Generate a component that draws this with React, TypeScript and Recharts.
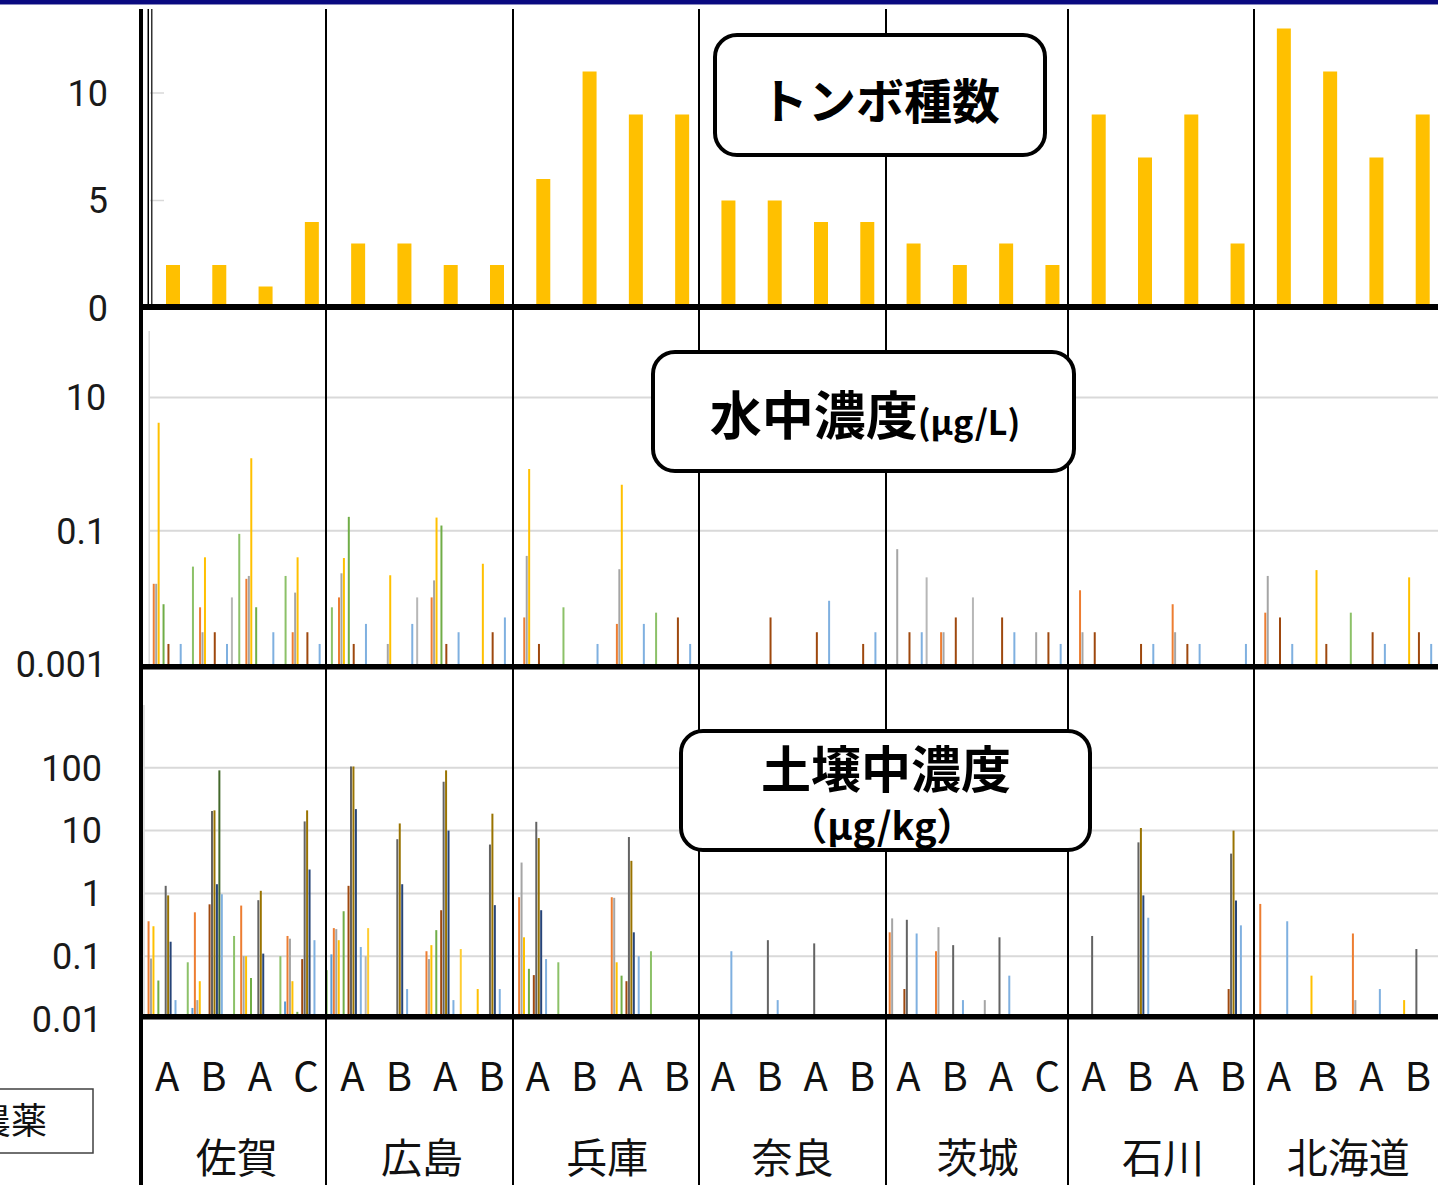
import React from "react";
import { BarChart, Bar, XAxis, YAxis, CartesianGrid } from "recharts";

const _ = null;

const PREFECTURES = ["佐賀", "広島", "兵庫", "奈良", "茨城", "石川", "北海道"];
const SITES = [
  "A", "B", "A", "C",
  "A", "B", "A", "B",
  "A", "B", "A", "B",
  "A", "B", "A", "B",
  "A", "B", "A", "C",
  "A", "B", "A", "B",
  "A", "B", "A", "B",
];

// トンボ種数
const DRAGONFLY_SPECIES = [
  2, 2, 1, 4,
  3, 3, 2, 2,
  6, 11, 9, 9,
  5, 5, 4, 4,
  3, 2, 3, 2,
  9, 7, 9, 3,
  13, 11, 7, 9,
];

// pesticide series (slot order in each site group)
const PESTICIDES = [
  "p1", "p2", "p3", "p4", "p5", "p6", "p7", "p8", "p9",
  "p10", "p11", "p12", "p13", "p14", "p15", "p16", "p17", "p18",
];
const PESTICIDE_COLORS = [
  "#5B9BD5", "#ED7D31", "#A5A5A5", "#FFC000", "#4472C4", "#70AD47",
  "#264478", "#9E480E", "#636363", "#997300", "#264478", "#43682B",
  "#7FB0E0", "#F1975A", "#B7B7B7", "#FFCD33", "#698ED0", "#8CC168",
];

// 水中濃度 (μg/L)
const WATER_P2 = [
  0.016, 0.0071, 0.019, 0.003,
  0.01, _, 0.01, _,
  0.005, _, 0.004, _,
  _, _, _, _,
  _, 0.003, _, _,
  0.0128, _, 0.0079, _,
  0.0059, _, _, _,
];
const WATER_P3 = [
  0.016, 0.003, 0.021, 0.0118,
  0.023, 0.002, 0.018, _,
  0.042, _, 0.0265, _,
  _, _, _, _,
  0.053, 0.003, _, 0.003,
  0.003, _, 0.003, _,
  0.021, _, _, _,
];
const WATER_P4 = [
  4.2, 0.04, 1.23, 0.04,
  0.039, 0.0215, 0.158, 0.032,
  0.85, _, 0.49, _,
  _, _, _, _,
  _, _, _, _,
  _, _, _, _,
  _, 0.0257, _, 0.02,
];
const WATER_P6 = [
  0.0079, _, 0.0071, _,
  0.162, _, 0.12, _,
  _, _, _, _,
  _, _, _, _,
  _, _, _, _,
  _, _, _, _,
  _, _, _, _,
];
const WATER_P8 = [
  0.002, 0.003, _, 0.003,
  0.002, _, 0.002, 0.003,
  0.002, _, _, 0.005,
  _, 0.005, 0.003, 0.002,
  0.003, 0.005, 0.005, 0.003,
  0.003, 0.002, 0.002, _,
  0.005, 0.002, 0.003, 0.003,
];
const WATER_P13 = [
  0.002, 0.002, 0.003, 0.002,
  0.004, 0.004, 0.003, 0.005,
  _, 0.002, 0.004, 0.002,
  _, _, 0.0089, 0.003,
  0.003, _, 0.003, 0.002,
  _, 0.002, 0.002, 0.002,
  0.002, _, 0.002, 0.002,
];
const WATER_P15 = [
  _, 0.01, _, _,
  _, 0.01, _, _,
  _, _, _, _,
  _, _, _, _,
  0.02, 0.01, _, _,
  _, _, _, _,
  _, _, _, _,
];
const WATER_P18 = [
  0.029, 0.09, 0.021, 0.0071,
  _, _, _, _,
  0.0071, _, 0.0059, _,
  _, _, _, _,
  _, _, _, _,
  _, _, _, _,
  _, 0.0059, _, _,
];

// 土壌中濃度 (μg/kg)
const SOIL_P1 = [
  _, 0.015, _, 0.019,
  0.107, _, _, _,
  _, _, _, _,
  _, _, _, _,
  _, _, _, _,
  _, _, _, _,
  _, _, _, _,
];
const SOIL_P2 = [
  0.36, 0.5, 0.64, 0.21,
  0.28, _, 0.12, _,
  0.87, _, 0.87, _,
  _, _, _, _,
  0.24, 0.12, _, _,
  _, _, _, _,
  0.68, _, 0.23, _,
];
const SOIL_P3 = [
  0.092, 0.02, 0.1, 0.19,
  0.27, _, 0.09, _,
  3.1, _, 0.85, _,
  _, _, _, _,
  0.4, 0.29, 0.02, _,
  _, _, _, _,
  _, _, 0.02, _,
];
const SOIL_P4 = [
  0.3, 0.04, 0.1, 0.04,
  0.18, _, 0.15, 0.03,
  0.2, _, 0.08, _,
  _, _, _, _,
  _, _, _, _,
  _, _, _, _,
  _, 0.049, _, 0.02,
];
const SOIL_P6 = [
  0.041, _, 0.045, 0.013,
  0.52, _, 0.26, _,
  0.063, _, 0.049, _,
  _, _, _, _,
  _, _, _, _,
  _, _, _, _,
  _, _, _, _,
];
const SOIL_P8 = [
  _, 0.67, _, 0.09,
  1.32, _, 0.54, _,
  0.05, _, 0.04, _,
  _, _, _, _,
  0.03, _, _, _,
  _, _, _, 0.03,
  _, _, _, _,
];
const SOIL_P9 = [
  1.32, 20.5, 0.78, 14,
  105, 7.3, 60, 6,
  13.8, _, 7.9, _,
  _, 0.18, 0.16, _,
  0.38, 0.15, 0.2, _,
  0.21, 6.5, _, 4.3,
  _, _, _, 0.13,
];
const SOIL_P10 = [
  0.93, 21, 1.1, 21,
  105, 13, 91, 18.6,
  7.6, _, 3.3, _,
  _, _, _, _,
  _, _, _, _,
  _, 11, _, 10,
  _, _, _, _,
];
const SOIL_P11 = [
  0.17, 1.4, 0.11, 2.4,
  22, 1.4, 10, 0.65,
  0.54, _, 0.24, _,
  _, _, _, _,
  _, _, _, _,
  _, 0.93, _, 0.77,
  _, _, _, _,
];
const SOIL_P12 = [
  _, 91, _, _,
  _, _, _, _,
  _, _, _, _,
  _, _, _, _,
  _, _, _, _,
  _, _, _, _,
  _, _, _, _,
];
const SOIL_P13 = [
  0.02, 0.97, _, 0.18,
  0.14, 0.03, 0.02, 0.03,
  0.09, _, 0.1, _,
  0.12, 0.02, _, _,
  0.23, 0.02, 0.049, _,
  _, 0.41, _, 0.31,
  0.36, _, 0.03, _,
];
const SOIL_P15 = [
  _, _, _, _,
  0.1, _, _, _,
  _, _, _, _,
  _, _, _, _,
  _, _, _, _,
  _, _, _, _,
  _, _, _, _,
];
const SOIL_P16 = [
  _, _, _, _,
  0.28, _, 0.13, _,
  _, _, _, _,
  _, _, _, _,
  _, _, _, _,
  _, _, _, _,
  _, _, _, _,
];
const SOIL_P18 = [
  0.08, 0.21, 0.1, 0.06,
  _, _, _, _,
  0.08, _, 0.12, _,
  _, _, _, _,
  _, _, _, _,
  _, _, _, _,
  _, _, _, _,
];

const WATER: Record<string, (number | null)[]> = {
  p2: WATER_P2, p3: WATER_P3, p4: WATER_P4, p6: WATER_P6,
  p8: WATER_P8, p13: WATER_P13, p15: WATER_P15, p18: WATER_P18,
};
const SOIL: Record<string, (number | null)[]> = {
  p1: SOIL_P1, p2: SOIL_P2, p3: SOIL_P3, p4: SOIL_P4, p6: SOIL_P6,
  p8: SOIL_P8, p9: SOIL_P9, p10: SOIL_P10, p11: SOIL_P11, p12: SOIL_P12,
  p13: SOIL_P13, p15: SOIL_P15, p16: SOIL_P16, p18: SOIL_P18,
};

const buildRows = (src: Record<string, (number | null)[]>) =>
  SITES.map((site, i) => {
    const row: any = { site };
    PESTICIDES.forEach((k) => {
      row[k] = src[k] ? src[k][i] : null;
    });
    return row;
  });

const topRows = SITES.map((site, i) => ({ site, count: DRAGONFLY_SPECIES[i] }));
const waterRows = buildRows(WATER);
const soilRows = buildRows(SOIL);

const BAND_W = 46.32;
const JP = "'Noto Sans CJK JP', sans-serif";
const tickStyle = { fontSize: 36, fill: "#1a1a1a", fontFamily: "Roboto, sans-serif" };
const fmt = (v: number) => String(v);

const SiteTick = ({ x, y, payload, index }: any) => {
  const pref = index % 4 === 1 ? PREFECTURES[Math.floor(index / 4)] : null;
  return (
    <g>
      <text x={x} y={y + 55} textAnchor="middle" dominantBaseline="central"
        fontSize={40} fill="#111" fontFamily={JP}>
        {payload.value}
      </text>
      {pref && (
        <text x={x + BAND_W / 2} y={y + 136} textAnchor="middle" dominantBaseline="central"
          fontSize={41} fill="#111" fontFamily={JP}>
          {pref}
        </text>
      )}
    </g>
  );
};

const SEPARATORS = [326, 513, 699, 886, 1068, 1254];

export default function App() {
  return (
    <div style={{ position: "fixed", left: 0, top: 0, width: 1438, height: 1185,
      overflow: "hidden", background: "#fff", fontFamily: JP }}>
      {/* トンボ種数 */}
      <div style={{ position: "absolute", left: 0, top: 0 }}>
        <BarChart width={1446} height={330} data={topRows}
          margin={{ top: 7, right: 0, bottom: 22, left: 0 }}>
          <XAxis dataKey="site" hide />
          <YAxis width={150} type="number" domain={[0, 14]} ticks={[0, 5, 10]}
            allowDataOverflow axisLine={false} tickSize={-14} tickMargin={56}
            tickLine={{ stroke: "#D9D9D9", strokeWidth: 1.5 }} tick={tickStyle} />
          <Bar dataKey="count" fill="#FFC000" barSize={14} isAnimationActive={false} />
        </BarChart>
      </div>

      {/* 水中濃度 */}
      <div style={{ position: "absolute", left: 0, top: 300 }}>
        <BarChart width={1446} height={386} data={waterRows}
          margin={{ top: 31, right: 0, bottom: 22, left: 0 }}
          barCategoryGap={1.1} barGap={0.45}>
          <CartesianGrid vertical={false} horizontalValues={[0.1, 10]}
            stroke="#D9D9D9" strokeWidth={2} />
          <XAxis dataKey="site" hide />
          <YAxis width={149.2} type="number" scale="log" domain={[0.001, 100]}
            ticks={[0.001, 0.1, 10]} allowDataOverflow tickFormatter={fmt}
            axisLine={{ stroke: "#D9D9D9", strokeWidth: 1.5 }} tickLine={false}
            tickSize={0} tickMargin={43} tick={tickStyle} />
          {PESTICIDES.map((k, i) => (
            <Bar key={k} dataKey={k} fill={PESTICIDE_COLORS[i]} isAnimationActive={false} />
          ))}
        </BarChart>
      </div>

      {/* 土壌中濃度 */}
      <div style={{ position: "absolute", left: 0, top: 680 }}>
        <BarChart width={1441} height={505} data={soilRows}
          margin={{ top: 25, right: 0, bottom: 0, left: 0 }}
          barCategoryGap={1.1} barGap={0.45}>
          <CartesianGrid vertical={false} horizontalValues={[0.1, 1, 10, 100]}
            stroke="#D9D9D9" strokeWidth={2} />
          <XAxis dataKey="site" height={166} interval={0} tickSize={0} tickMargin={0}
            axisLine={false} tickLine={false} tick={(p: any) => <SiteTick {...p} />} />
          <YAxis width={144} type="number" scale="log" domain={[0.01, 1000]}
            ticks={[0.01, 0.1, 1, 10, 100]} allowDataOverflow tickFormatter={fmt}
            axisLine={{ stroke: "#D9D9D9", strokeWidth: 1.5 }} tickLine={false}
            tickSize={0} tickMargin={42} tick={tickStyle} />
          {PESTICIDES.map((k, i) => (
            <Bar key={k} dataKey={k} fill={PESTICIDE_COLORS[i]} isAnimationActive={false} />
          ))}
        </BarChart>
      </div>

      {/* frame lines, title boxes, legend box */}
      <svg width={1438} height={1185} style={{ position: "absolute", left: 0, top: 0, pointerEvents: "none" }}>
        <rect x={0} y={0} width={1438} height={4} fill="#0A0A80" />
        <rect x={0} y={4} width={1438} height={1} fill="#8A8AC0" />
        <rect x={139} y={9} width={4} height={1176} fill="#000" />
        <rect x={147.5} y={9} width={1.5} height={296} fill="#000" />
        <rect x={151} y={9} width={1.5} height={296} fill="#333" />
        {SEPARATORS.map((x) => (
          <rect key={x} x={x - 1} y={9} width={2} height={1176} fill="#000" />
        ))}
        <rect x={139} y={304} width={1300} height={6} fill="#000" />
        <rect x={139} y={664} width={1300} height={5.5} fill="#000" />
        <rect x={139} y={1014} width={1300} height={5.5} fill="#000" />

        <rect x={715} y={35} width={330} height={120} rx={22} fill="#fff" stroke="#000" strokeWidth={4} />
        <text x={880} y={119} textAnchor="middle" fontSize={48} fontWeight={700} fontFamily={JP} fill="#000">
          トンボ種数
        </text>

        <rect x={653} y={352} width={421} height={119} rx={22} fill="#fff" stroke="#000" strokeWidth={4} />
        <text x={865} y={435} textAnchor="middle" fontWeight={700} fontFamily={JP} fill="#000">
          <tspan fontSize={52}>水中濃度</tspan>
          <tspan fontSize={34}>(μg/L)</tspan>
        </text>

        <rect x={681} y={731} width={409} height={119} rx={22} fill="#fff" stroke="#000" strokeWidth={4} />
        <text x={886} y={788} textAnchor="middle" fontSize={50} fontWeight={700} fontFamily={JP} fill="#000">
          土壌中濃度
        </text>
        <text x={882} y={840} textAnchor="middle" fontSize={38} fontWeight={700} fontFamily={JP} fill="#000">
          （μg/kg）
        </text>

        <rect x={-10} y={1089} width={103} height={64} fill="#fff" stroke="#404040" strokeWidth={1.5} />
        <text x={47} y={1134} textAnchor="end" fontSize={36} fontFamily={JP} fill="#111">
          農薬
        </text>
      </svg>
    </div>
  );
}
